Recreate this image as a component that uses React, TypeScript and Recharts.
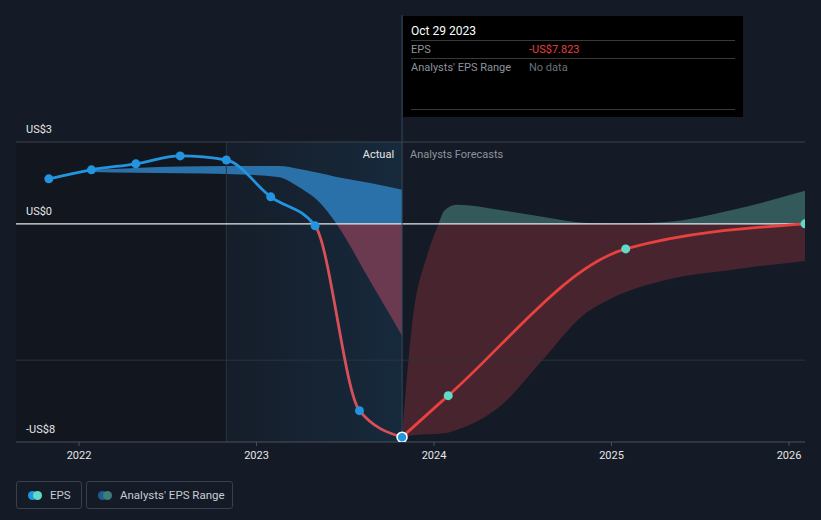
import React from "react";
import {
  ComposedChart,
  Line,
  Area,
  XAxis,
  YAxis,
  ReferenceLine,
  ReferenceArea,
} from "recharts";

// EPS history (reported) and analyst forecasts, in decimal years
const actualYears = [2021.83, 2022.07, 2022.32, 2022.57, 2022.83, 2023.08, 2023.33, 2023.58, 2023.82];
const actualEps = [1.65, 1.98, 2.2, 2.49, 2.34, 0.99, -0.07, -6.85, -7.823];

const forecastYears = [2023.82, 2024.08, 2025.08, 2026.09];
const forecastEps = [-7.823, -6.3, -0.92, 0.0];

// analysts' EPS range (past estimates)
const pastRangeYears = [2022.07, 2022.32, 2022.57, 2022.83, 2023.12, 2023.25, 2023.36, 2023.45, 2023.64, 2023.82];
const pastRangeLow = [1.9, 1.87, 1.85, 1.83, 1.72, 1.3, 0.75, 0.0, -2.1, -4.1];
const pastRangeHigh = [1.98, 2.05, 2.1, 2.12, 2.12, 2.0, 1.85, 1.72, 1.5, 1.25];

// analysts' EPS range (forecast)
const fcRangeYears = [2023.82, 2023.88, 2023.96, 2024.02, 2024.06, 2024.13, 2024.37, 2024.61, 2024.84, 2025.01, 2025.31, 2025.68, 2026.09];
const fcRangeLow = [-7.823, -7.75, -7.72, -7.7, -7.68, -7.55, -6.7, -5.0, -3.35, -2.7, -2.05, -1.68, -1.36];
const fcRangeHigh = [-7.823, -3.5, -1.2, -0.1, 0.5, 0.7, 0.51, 0.26, 0.04, 0.0, 0.07, 0.51, 1.21];

const xTicks = [2022, 2023, 2024, 2025, 2026];
const yLabels = [3, 0, -8];
const X_DOMAIN: [number, number] = [2021.645, 2026.09];
const Y_MIN = -8;
const Y_MAX = 3;
const ACTUAL_START = 2022.83;
const TODAY = 2023.82;

const W = 821;
const H = 470;
const TOP = 142;
const PLOT_H = 300;
const zeroFrac = Y_MAX / (Y_MAX - Y_MIN);

const BLUE = "#2394df";
const CYAN = "#5fdcc8";
const RED = "#e8413f";
const BG = "#151b26";

const actualData = actualYears.map((year, i) => ({ year, eps: actualEps[i] }));
const forecastData = forecastYears.map((year, i) => ({ year, eps: forecastEps[i] }));
const pastRange = pastRangeYears.map((year, i) => ({ year, range: [pastRangeLow[i], pastRangeHigh[i]] }));
const fcRange = fcRangeYears.map((year, i) => ({ year, range: [fcRangeLow[i], fcRangeHigh[i]] }));

const fmtY = (v: number) => (v < 0 ? `-US$${Math.abs(v)}` : `US$${v}`);

const font = "Roboto, 'Noto Sans', sans-serif";

function ActualDot(props: any) {
  const { cx, cy, index } = props;
  if (cx == null || cy == null) return null;
  const last = index === actualData.length - 1;
  return (
    <circle
      key={`ad-${index}`}
      cx={cx}
      cy={cy}
      r={last ? 5 : 4.5}
      fill={BLUE}
      stroke={last ? "#ffffff" : BLUE}
      strokeWidth={last ? 1.5 : 0}
    />
  );
}

function ForecastDot(props: any) {
  const { cx, cy, index } = props;
  if (cx == null || cy == null || index === 0) return <g key={`fd-${index}`} />;
  return <circle key={`fd-${index}`} cx={cx} cy={cy} r={4.5} fill={CYAN} />;
}

const yLabel = (v: number) => (p: any) => {
  const y = p.viewBox ? p.viewBox.y : 0;
  return (
    <text x={26} y={y - 9} fill="#e6e6e6" fontSize={11} fontFamily={font}>
      {fmtY(v)}
    </text>
  );
};

function LegendItem({ label, c1, c2, width }: { label: string; c1: string; c2: string; width: number }) {
  return (
    <div
      style={{
        width,
        height: 28,
        boxSizing: "border-box",
        border: "1px solid #3a404b",
        borderRadius: 3,
        display: "flex",
        alignItems: "center",
        paddingLeft: 11,
        marginRight: 4,
      }}
    >
      <span style={{ position: "relative", width: 14, height: 9, display: "inline-block" }}>
        <span style={{ position: "absolute", left: 0, top: 0, width: 9, height: 9, borderRadius: 5, background: c1 }} />
        <span style={{ position: "absolute", left: 5, top: 0, width: 9, height: 9, borderRadius: 5, background: c2 }} />
      </span>
      <span style={{ marginLeft: 8, color: "#c8ccd2", fontSize: 11.5 }}>{label}</span>
    </div>
  );
}

export default function App() {
  return (
    <div style={{ position: "fixed", left: 0, top: 0, width: W, height: 520, background: BG, fontFamily: font, overflow: "hidden" }}>
      <ComposedChart width={W} height={H} margin={{ top: TOP, right: 16, bottom: 0, left: 16 }}>
        <defs>
          <linearGradient id="actualHl" x1="0" y1="0" x2="1" y2="0">
            <stop offset="0%" stopColor={BLUE} stopOpacity={0.02} />
            <stop offset="100%" stopColor={BLUE} stopOpacity={0.12} />
          </linearGradient>
          <linearGradient id="pastBand" x1="0" y1={TOP} x2="0" y2={TOP + PLOT_H} gradientUnits="userSpaceOnUse">
            <stop offset={zeroFrac} stopColor="#2a70a9" />
            <stop offset={zeroFrac} stopColor="#6b3a50" />
          </linearGradient>
          <linearGradient id="fcBand" x1="0" y1={TOP} x2="0" y2={TOP + PLOT_H} gradientUnits="userSpaceOnUse">
            <stop offset={zeroFrac} stopColor="#33595a" />
            <stop offset={zeroFrac} stopColor="#48252e" />
          </linearGradient>
          <linearGradient id="actualStroke" x1="0" y1={TOP} x2="0" y2={TOP + PLOT_H} gradientUnits="userSpaceOnUse">
            <stop offset={zeroFrac} stopColor={BLUE} />
            <stop offset={zeroFrac} stopColor="#d94f58" />
          </linearGradient>
        </defs>

        <XAxis
          type="number"
          dataKey="year"
          domain={X_DOMAIN}
          ticks={xTicks}
          allowDataOverflow
          height={28}
          axisLine={{ stroke: "#4a515c" }}
          tickLine={{ stroke: "#4a515c" }}
          tickSize={4}
          tickMargin={5}
          tick={{ fill: "#e6e6e6", fontSize: 11, fontFamily: font }}
        />
        <YAxis type="number" domain={[Y_MIN, Y_MAX]} allowDataOverflow hide />

        <ReferenceArea x1={X_DOMAIN[0]} x2={ACTUAL_START} y1={Y_MIN} y2={Y_MAX} fill="#0e1219" fillOpacity={0.45} stroke="none" />
        <ReferenceArea x1={ACTUAL_START} x2={TODAY} y1={Y_MIN} y2={Y_MAX} fill="url(#actualHl)" fillOpacity={1} stroke="none" />
        <ReferenceLine x={ACTUAL_START} stroke="#2a3644" strokeWidth={1} />

        <ReferenceLine y={yLabels[0]} stroke="#3b434f" strokeWidth={1} label={yLabel(yLabels[0])} />
        <ReferenceLine y={-5} stroke="#2c333e" strokeWidth={1} />
        <ReferenceLine y={yLabels[2]} stroke="none" label={yLabel(yLabels[2])} />

        <Area
          data={pastRange}
          dataKey="range"
          type="monotone"
          fill="url(#pastBand)"
          fillOpacity={1}
          stroke="none"
          isAnimationActive={false}
        />
        <Area
          data={fcRange}
          dataKey="range"
          type="monotone"
          fill="url(#fcBand)"
          fillOpacity={1}
          stroke="none"
          isAnimationActive={false}
        />

        <ReferenceLine y={yLabels[1]} stroke="#e8e8e8" strokeWidth={1.2} label={yLabel(yLabels[1])} />

        <ReferenceLine
          segment={[
            { x: TODAY, y: Y_MIN },
            { x: TODAY, y: 7.65 },
          ]}
          ifOverflow="visible"
          stroke="#34475a"
          strokeWidth={1}
          label={(p: any) => {
            const x = p.viewBox ? p.viewBox.x : 0;
            return (
              <g>
                <text x={x - 8} y={TOP + 16} textAnchor="end" fill="#e6e6e6" fontSize={11} fontFamily={font}>
                  Actual
                </text>
                <text x={x + 8} y={TOP + 16} textAnchor="start" fill="#8d939c" fontSize={11} fontFamily={font}>
                  Analysts Forecasts
                </text>
              </g>
            );
          }}
        />

        <Line
          data={forecastData}
          dataKey="eps"
          type="monotone"
          stroke={RED}
          strokeWidth={2.8}
          dot={<ForecastDot />}
          activeDot={false}
          isAnimationActive={false}
        />
        <Line
          data={actualData}
          dataKey="eps"
          type="monotone"
          stroke="url(#actualStroke)"
          strokeWidth={2.8}
          dot={<ActualDot />}
          activeDot={false}
          isAnimationActive={false}
        />
      </ComposedChart>

      <div
        style={{
          position: "absolute",
          left: 403,
          top: 16,
          width: 340,
          height: 101,
          background: "#000",
          boxSizing: "border-box",
          padding: "0 8px",
          fontSize: 11,
        }}
      >
        <div style={{ color: "#fff", fontSize: 12, height: 24, lineHeight: "30px", borderBottom: "1px solid #3a3a3a" }}>
          Oct 29 2023
        </div>
        <div style={{ display: "flex", height: 17, lineHeight: "17px", borderBottom: "1px solid #3a3a3a" }}>
          <span style={{ width: 118, color: "#8d939c" }}>EPS</span>
          <span style={{ color: RED }}>-US$7.823</span>
        </div>
        <div style={{ display: "flex", height: 17, lineHeight: "17px" }}>
          <span style={{ width: 118, color: "#8d939c" }}>Analysts' EPS Range</span>
          <span style={{ color: "#6a7078" }}>No data</span>
        </div>
        <div style={{ position: "absolute", left: 8, right: 8, top: 93, borderBottom: "1px solid #3a3a3a" }} />
      </div>

      <div style={{ position: "absolute", left: 16, top: 481, display: "flex" }}>
        <LegendItem label="EPS" c1={BLUE} c2={CYAN} width={66} />
        <LegendItem label="Analysts' EPS Range" c1="#1f5d8f" c2="#3e7d7a" width={147} />
      </div>
    </div>
  );
}
